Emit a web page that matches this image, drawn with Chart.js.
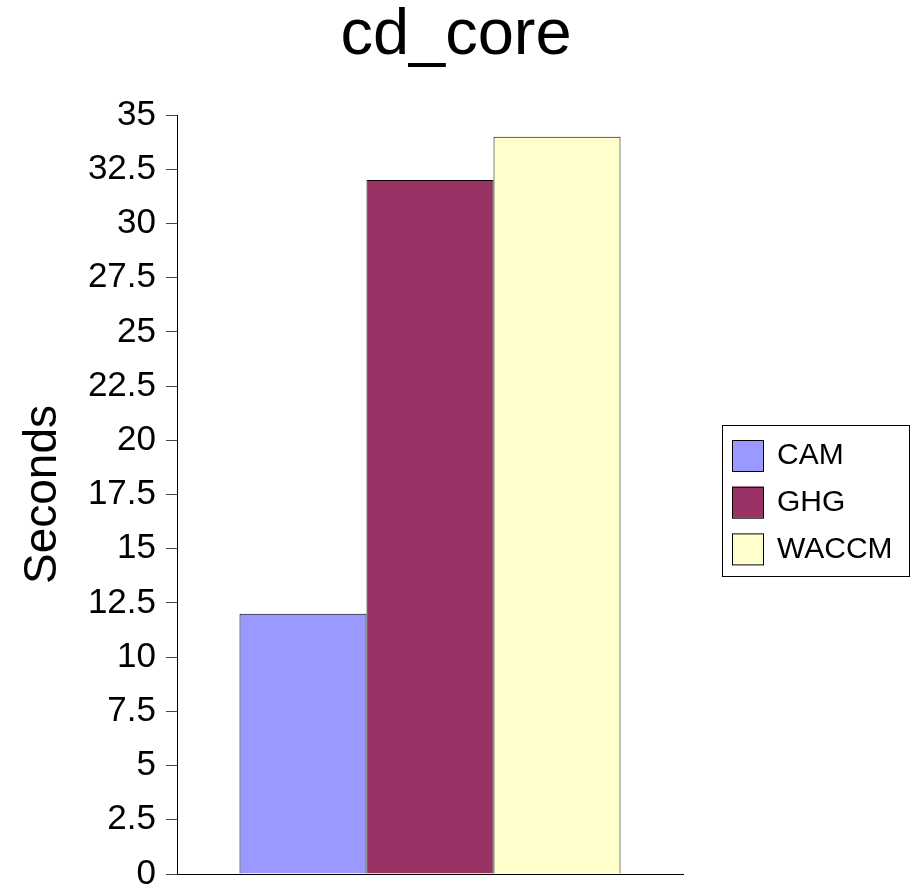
<!DOCTYPE html>
<html><head><meta charset="utf-8">
<script src="https://cdn.jsdelivr.net/npm/chart.js@4"></script>
<style>html,body{margin:0;padding:0;background:#fff}canvas{display:block}</style>
</head><body>
<canvas id="c" width="912" height="888"></canvas>
<script>
const categories = [''];
const seriesNames = ['CAM', 'GHG', 'WACCM'];
const camValues = [12];
const ghgValues = [32];
const waccmValues = [34];
const seriesColors = ['#9999FF', '#993366', '#FFFFCC'];
const yMin = 0, yMax = 35, yStep = 2.5;
const titleText = 'cd_core';
const yAxisTitle = 'Seconds';

const FONT = '"Liberation Sans", Arial, Helvetica, sans-serif';

const boxedLegend = {
  id: 'boxedLegend',
  afterDraw(chart) {
    const ctx = chart.ctx, ca = chart.chartArea;
    const left = ca.right + 39, top = ca.top + 310;
    const w = 187, h = 151;
    ctx.save();
    ctx.fillStyle = '#fff';
    ctx.fillRect(left, top, w, h);
    ctx.strokeStyle = '#000';
    ctx.lineWidth = 1;
    ctx.strokeRect(left + 0.5, top + 0.5, w, h);
    ctx.font = '30px ' + FONT;
    ctx.textBaseline = 'middle';
    chart.data.datasets.forEach((ds, i) => {
      const sy = top + 15 + i * 46.7;
      ctx.fillStyle = ds.backgroundColor;
      ctx.fillRect(left + 10, sy, 31, 31);
      ctx.strokeStyle = '#000';
      ctx.strokeRect(left + 10.5, sy + 0.5, 31, 31);
      ctx.fillStyle = '#000';
      ctx.fillText(ds.label, left + 55, sy + 16);
    });
    ctx.restore();
  }
};

const datasetValues = [camValues, ghgValues, waccmValues];

new Chart(document.getElementById('c'), {
  type: 'bar',
  data: {
    labels: categories,
    datasets: seriesNames.map((name, i) => ({
      label: name,
      data: datasetValues[i],
      backgroundColor: seriesColors[i],
      borderColor: '#000',
      borderWidth: 1,
      categoryPercentage: 0.753,
      barPercentage: 1
    }))
  },
  options: {
    responsive: false,
    animation: false,
    layout: { padding: { left: 0, right: 0, top: 0, bottom: 14 } },
    plugins: {
      legend: { display: false },
      tooltip: { enabled: false },
      title: {
        display: true,
        text: titleText,
        color: '#000',
        font: { family: FONT, size: 65, weight: 'normal', lineHeight: 1.0 },
        padding: { top: 4, bottom: 46 }
      }
    },
    scales: {
      x: {
        grid: { display: false },
        ticks: { display: false },
        border: { display: true, color: '#000', width: 1 },
        afterFit(s) { s.height = 0; }
      },
      y: {
        min: yMin,
        max: yMax,
        ticks: {
          stepSize: yStep,
          color: '#000',
          padding: 10,
          font: { family: FONT, size: 35 },
          callback: v => String(v)
        },
        grid: { drawOnChartArea: false, drawTicks: true, tickLength: 11, color: '#444' },
        border: { display: true, color: '#000', width: 1 },
        title: {
          display: true,
          text: yAxisTitle,
          color: '#000',
          font: { family: FONT, size: 46 },
          padding: { top: 16, bottom: 0 }
        },
        afterFit(s) { s.width = 177; s.paddingTop = 0; s.paddingBottom = 0; }
      },
      legendSpace: {
        type: 'linear',
        position: 'right',
        display: true,
        ticks: { display: false },
        grid: { display: false },
        border: { display: false },
        afterFit(s) { s.width = 229; s.paddingTop = 0; s.paddingBottom = 0; }
      }
    }
  },
  plugins: [boxedLegend]
});
</script>
</body></html>
